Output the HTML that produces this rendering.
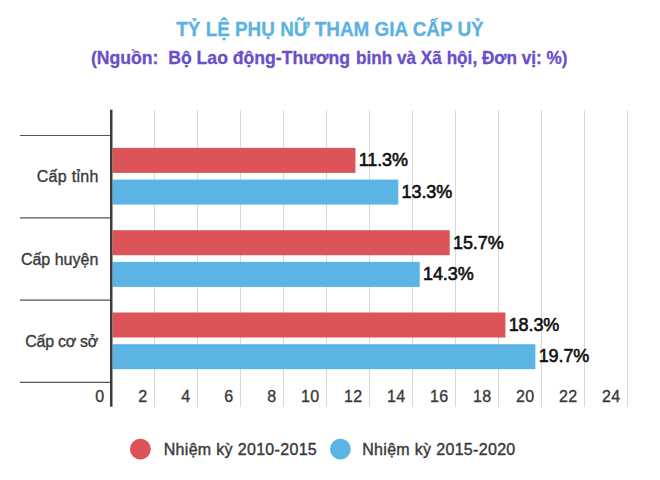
<!DOCTYPE html>
<html lang="vi">
<head>
<meta charset="utf-8">
<title>Tỷ lệ phụ nữ tham gia cấp uỷ</title>
<style>
html,body{margin:0;padding:0;background:#fff;}
body{width:660px;height:480px;position:relative;overflow:hidden;font-family:"Liberation Sans",sans-serif;}
.abs{position:absolute;}
svg{position:absolute;left:0;top:0;}
.title{left:0;width:660px;text-align:center;font-weight:bold;white-space:pre;}
.t1{top:16.5px;font-size:19.8px;line-height:24px;color:#5ab3e2;-webkit-text-stroke:0.3px #5ab3e2;transform:scaleX(0.955);transform-origin:329.2px 50%;}
.t2{top:46px;font-size:17.8px;line-height:24px;color:#6a4fc9;font-weight:bold;white-space:pre;transform-origin:0 50%;-webkit-text-stroke:0.3px #6a4fc9;}
.cat{left:0;width:98.3px;text-align:right;font-size:16px;line-height:20px;color:#3a3a3a;-webkit-text-stroke:0.35px #3a3a3a;}
.val{font-size:18px;line-height:20px;color:#111;-webkit-text-stroke:0.6px #111;letter-spacing:-0.1px;}
.xl{width:40px;text-align:right;font-size:16px;line-height:20px;color:#3a3a3a;top:387.4px;-webkit-text-stroke:0.35px #3a3a3a;letter-spacing:0.3px;}
.leg{font-size:16px;line-height:20px;color:#3a3a3a;top:439.7px;letter-spacing:0.32px;-webkit-text-stroke:0.4px #3a3a3a;}
</style>
</head>
<body>
<svg width="660" height="480" viewBox="0 0 660 480">
<line x1="154.5" y1="110" x2="154.5" y2="407" stroke="#d8d8d8" stroke-width="1"/>
<line x1="197.5" y1="110" x2="197.5" y2="407" stroke="#d8d8d8" stroke-width="1"/>
<line x1="240.5" y1="110" x2="240.5" y2="407" stroke="#d8d8d8" stroke-width="1"/>
<line x1="283.5" y1="110" x2="283.5" y2="407" stroke="#d8d8d8" stroke-width="1"/>
<line x1="326.5" y1="110" x2="326.5" y2="407" stroke="#d8d8d8" stroke-width="1"/>
<line x1="369.5" y1="110" x2="369.5" y2="407" stroke="#d8d8d8" stroke-width="1"/>
<line x1="412.5" y1="110" x2="412.5" y2="407" stroke="#d8d8d8" stroke-width="1"/>
<line x1="455.5" y1="110" x2="455.5" y2="407" stroke="#d8d8d8" stroke-width="1"/>
<line x1="498.5" y1="110" x2="498.5" y2="407" stroke="#d8d8d8" stroke-width="1"/>
<line x1="541.5" y1="110" x2="541.5" y2="407" stroke="#d8d8d8" stroke-width="1"/>
<line x1="584.5" y1="110" x2="584.5" y2="407" stroke="#d8d8d8" stroke-width="1"/>
<line x1="627.5" y1="110" x2="627.5" y2="407" stroke="#d8d8d8" stroke-width="1"/>
<line x1="20" y1="135.5" x2="111" y2="135.5" stroke="#555" stroke-width="1.2"/>
<line x1="20" y1="217.8" x2="111" y2="217.8" stroke="#555" stroke-width="1.2"/>
<line x1="20" y1="300.1" x2="111" y2="300.1" stroke="#555" stroke-width="1.2"/>
<line x1="20" y1="382.4" x2="111" y2="382.4" stroke="#555" stroke-width="1.2"/>
<rect x="112.6" y="147.9" width="242.85" height="25" fill="#dc5358"/>
<rect x="112.6" y="179.6" width="285.69" height="25" fill="#5cb4e4"/>
<rect x="112.6" y="230.2" width="337.09" height="25" fill="#dc5358"/>
<rect x="112.6" y="261.9" width="307.11" height="25" fill="#5cb4e4"/>
<rect x="112.6" y="312.5" width="392.79" height="25" fill="#dc5358"/>
<rect x="112.6" y="344.2" width="422.77" height="25" fill="#5cb4e4"/>
<rect x="110" y="109.7" width="2.5" height="297" fill="#3c3c3c"/>
<circle cx="140.4" cy="449.2" r="10.4" fill="#dc5358"/>
<circle cx="340.4" cy="449.2" r="10.4" fill="#5cb4e4"/>
</svg>
<div class="abs title t1">TỶ LỆ PHỤ NỮ THAM GIA CẤP UỶ</div>
<div class="abs t2" style="left:90.6px;transform:scaleX(0.99)">(Nguồn:  Bộ Lao động-Thương </div>
<div class="abs t2" style="left:356.2px;transform:scaleX(0.9655)">binh và Xã hội, Đơn vị: %)</div>
<div class="abs cat" style="top:167.2px;letter-spacing:0.28px;width:98.58px">Cấp tỉnh</div>
<div class="abs cat" style="top:249.5px;letter-spacing:0.0px;width:98.30px">Cấp huyện</div>
<div class="abs cat" style="top:331.8px;letter-spacing:-0.28px;width:98.02px">Cấp cơ sở</div>
<div class="abs val" style="left:358.7px;top:150.3px">11.3%</div>
<div class="abs val" style="left:401.6px;top:181.8px">13.3%</div>
<div class="abs val" style="left:453.0px;top:232.6px">15.7%</div>
<div class="abs val" style="left:423.0px;top:264.1px">14.3%</div>
<div class="abs val" style="left:508.7px;top:314.9px">18.3%</div>
<div class="abs val" style="left:538.7px;top:346.4px">19.7%</div>
<div class="abs xl" style="left:64.5px">0</div>
<div class="abs xl" style="left:107.5px">2</div>
<div class="abs xl" style="left:150.5px">4</div>
<div class="abs xl" style="left:193.5px">6</div>
<div class="abs xl" style="left:236.5px">8</div>
<div class="abs xl" style="left:279.5px">10</div>
<div class="abs xl" style="left:322.5px">12</div>
<div class="abs xl" style="left:365.5px">14</div>
<div class="abs xl" style="left:408.5px">16</div>
<div class="abs xl" style="left:451.5px">18</div>
<div class="abs xl" style="left:494.5px">20</div>
<div class="abs xl" style="left:537.5px">22</div>
<div class="abs xl" style="left:580.5px">24</div>
<div class="abs leg" style="left:163.7px">Nhiệm kỳ 2010-2015</div>
<div class="abs leg" style="left:362.2px">Nhiệm kỳ 2015-2020</div>
</body>
</html>
